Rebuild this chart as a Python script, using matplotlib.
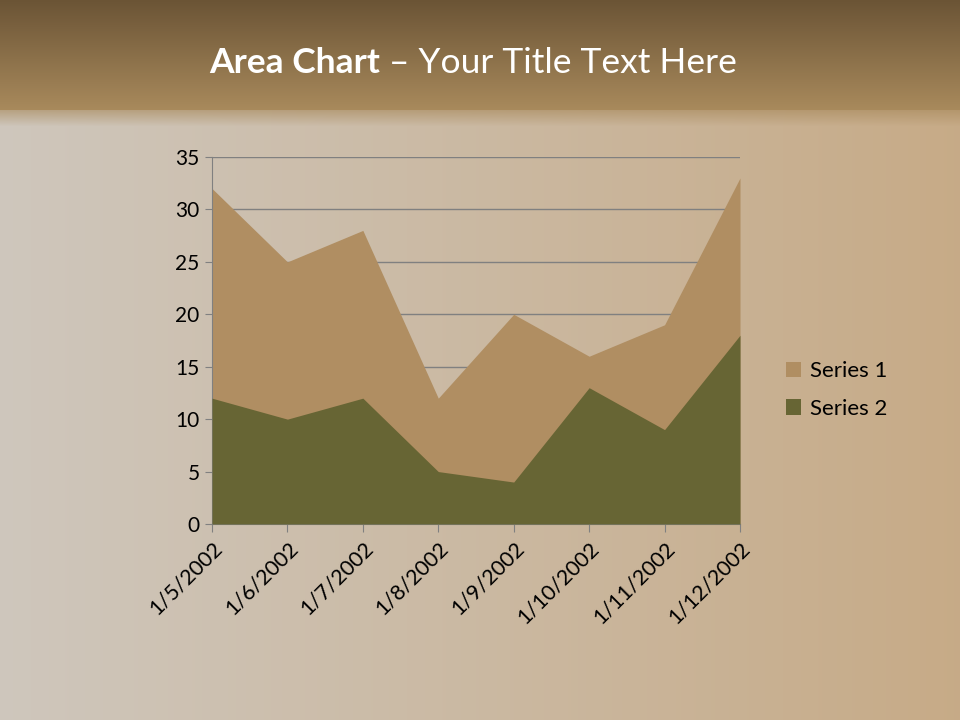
import matplotlib.pyplot as plt
import numpy as np

plt.rcParams['font.family'] = ['Lato', 'DejaVu Sans']

categories = ['1/5/2002', '1/6/2002', '1/7/2002', '1/8/2002',
              '1/9/2002', '1/10/2002', '1/11/2002', '1/12/2002']
series1 = [32, 25, 28, 12, 20, 16, 19, 33]
series2 = [12, 10, 12, 5, 4, 13, 9, 18]
yticks = [0, 5, 10, 15, 20, 25, 30, 35]

col1 = '#B08E62'
col2 = '#676534'

fig = plt.figure(figsize=(9.6, 7.2), dpi=100)

# background: light wood tone, darker brown header band
bg = fig.add_axes([0, 0, 1, 1], zorder=-10)
bg.axis('off')
h, w = 720, 960
xx = np.linspace(0, 1, w)[None, :]
base_l = np.array([0.81, 0.78, 0.74])
base_r = np.array([0.78, 0.67, 0.53])
img = base_l[None, None, :] * (1 - xx[..., None]) + base_r[None, None, :] * xx[..., None]
img = img * np.ones((h, 1, 1))
head_top = np.array([0.42, 0.33, 0.21])
head_bot = np.array([0.66, 0.54, 0.36])
hb = 110
t = np.linspace(0, 1, hb)[:, None, None]
img[:hb] = head_top * (1 - t) + head_bot * t
fade = 16
for i in range(fade):
    a = 1 - i / fade
    img[hb + i] = img[hb + i] * (1 - a * 0.6) + head_bot * a * 0.6
bg.imshow(img, aspect='auto', extent=[0, 1, 0, 1], transform=bg.transAxes)

fig.text(0.396, 0.913, 'Area Chart', color='white', fontsize=25.5,
         fontweight='bold', ha='right', va='center')
fig.text(0.396, 0.913, ' – Your Title Text Here', color='white', fontsize=25.5,
         ha='left', va='center')

ax = fig.add_axes([212 / 960, 1 - 524 / 720, (740 - 212) / 960, (524 - 157) / 720])
ax.patch.set_alpha(0)
x = np.arange(len(categories))
ax.fill_between(x, series1, color=col1, label='Series 1', zorder=2, linewidth=0)
ax.fill_between(x, series2, color=col2, label='Series 2', zorder=3, linewidth=0)

ax.set_xlim(0, len(categories) - 1)
ax.set_ylim(0, 35)
ax.set_yticks(yticks)
ax.set_yticklabels([str(v) for v in yticks], fontsize=15)
ax.yaxis.grid(True, color='#808080', linewidth=1)
ax.set_axisbelow(True)
ax.set_xticks(x)
ax.set_xticklabels(categories, rotation=45, ha='right', va='top',
                   rotation_mode='anchor', fontsize=15.5)
for s in ['top', 'right']:
    ax.spines[s].set_visible(False)
for s in ['left', 'bottom']:
    ax.spines[s].set_color('#808080')
ax.tick_params(axis='both', color='#808080', length=6, pad=4)
ax.tick_params(axis='y', length=5)

leg = ax.legend(loc='center left', bbox_to_anchor=(1.049, 0.365), frameon=False,
                fontsize=16, handlelength=0.7, handleheight=0.7, handletextpad=0.4,
                labelspacing=0.8)

fig.savefig('out.png', dpi=100)
